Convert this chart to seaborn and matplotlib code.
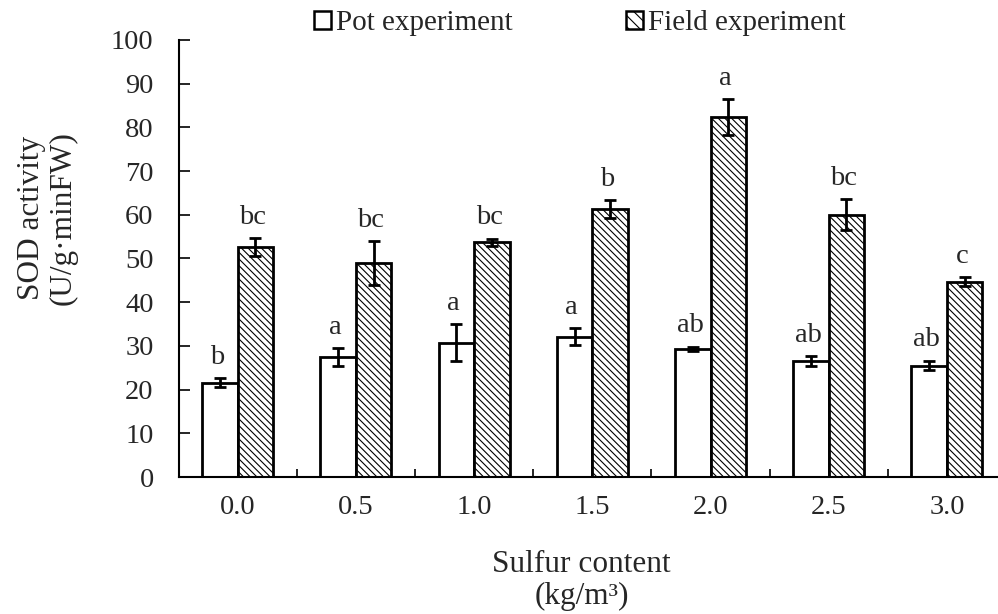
import numpy as np
import pandas as pd
import matplotlib
matplotlib.use("Agg")
import matplotlib.pyplot as plt
from matplotlib.patches import Patch
import seaborn as sns

sns.set_theme(style="white")
plt.rcParams["font.family"] = ["Liberation Serif", "DejaVu Serif"]
plt.rcParams["hatch.linewidth"] = 0.8

# data
sulfur = ["0.0", "0.5", "1.0", "1.5", "2.0", "2.5", "3.0"]
pot_mean = [21.6, 27.5, 30.7, 32.1, 29.3, 26.5, 25.5]
pot_err = [1.0, 2.0, 4.2, 1.9, 0.5, 1.1, 1.1]
field_mean = [52.6, 49.0, 53.7, 61.3, 82.3, 60.0, 44.7]
field_err = [2.1, 5.0, 0.8, 2.0, 4.1, 3.5, 1.0]
pot_letters = ["b", "a", "a", "a", "ab", "ab", "ab"]
field_letters = ["bc", "bc", "bc", "b", "a", "bc", "c"]
groups = ["Pot experiment", "Field experiment"]

df = pd.DataFrame({
    "sulfur": sulfur * 2,
    "value": pot_mean + field_mean,
    "group": [groups[0]] * len(sulfur) + [groups[1]] * len(sulfur),
})

FS = 20.5      # ticks / letters
FS_LAB = 22.5  # axis titles
FS_LEG = 21

fig = plt.figure(figsize=(9.98, 6.14), dpi=100)
# axes runs a little past the right edge like the original crop
ax = fig.add_axes([0.179, 0.2231, 0.829, 0.7118])

sns.barplot(data=df, x="sulfur", y="value", hue="group", hue_order=groups,
            order=sulfur, palette=["white", "white"], saturation=1,
            errorbar=None, width=0.6, edgecolor="black", linewidth=2.0,
            legend=False, ax=ax)

hatches = [None, "\\\\\\\\\\"]
errs = [pot_err, field_err]
means = [pot_mean, field_mean]
letters = [pot_letters, field_letters]
bar_conts = list(ax.containers)
for k, cont in enumerate(bar_conts):
    for i, bar in enumerate(cont.patches):
        if hatches[k]:
            bar.set_hatch(hatches[k])
        xc = bar.get_x() + bar.get_width() / 2
        ax.errorbar(xc, means[k][i], yerr=errs[k][i], fmt="none",
                    ecolor="black", elinewidth=2.0, capsize=4, capthick=2.0,
                    zorder=5)
        ax.annotate(letters[k][i], (xc, means[k][i] + errs[k][i]),
                    xytext=(-2, 6), textcoords="offset points",
                    ha="center", va="bottom", fontsize=FS)

ax.set_ylim(0, 100)
ax.set_xlim(-0.5, 6.5)
ax.set_yticks(np.arange(0, 101, 10))
ax.set_xticks(np.arange(len(sulfur)))
ax.set_xticklabels(sulfur)
ax.set_xticks(np.arange(0.5, len(sulfur) - 1, 1), minor=True)
ax.tick_params(axis="x", which="major", length=0, pad=13, labelsize=FS)
ax.tick_params(axis="x", which="minor", direction="in", length=6,
               width=1.2, color="black", bottom=True)
ax.tick_params(axis="y", direction="in", length=8, width=1.2,
               color="black", left=True, pad=18, labelsize=FS)

for s in ["top", "right"]:
    ax.spines[s].set_visible(False)
for s in ["left", "bottom"]:
    ax.spines[s].set_color("black")
    ax.spines[s].set_linewidth(1.5)

ax.set_xlabel("Sulfur content\n(kg/m³)", fontsize=FS_LAB, labelpad=20,
              linespacing=1.12)
ax.xaxis.set_label_coords(0.487, -0.168)
ax.xaxis.label.set_va("top")
ax.set_ylabel("SOD activity\n(U/g·minFW)", fontsize=FS_LAB, labelpad=20,
              linespacing=1.1)
ax.yaxis.set_label_coords(-0.122, 0.593)
ax.set_facecolor("white")

handles = [Patch(facecolor="white", edgecolor="black", linewidth=1.8),
           Patch(facecolor="white", edgecolor="black", linewidth=1.8,
                 hatch="\\\\\\")]
fig.legend(handles, groups, ncol=2, loc="center",
           bbox_to_anchor=(0.581, 0.962), frameon=False, fontsize=FS_LEG,
           handlelength=0.58, handleheight=0.58, handletextpad=0.17,
           columnspacing=3.9)

fig.savefig("out.png", dpi=100, facecolor="white")
